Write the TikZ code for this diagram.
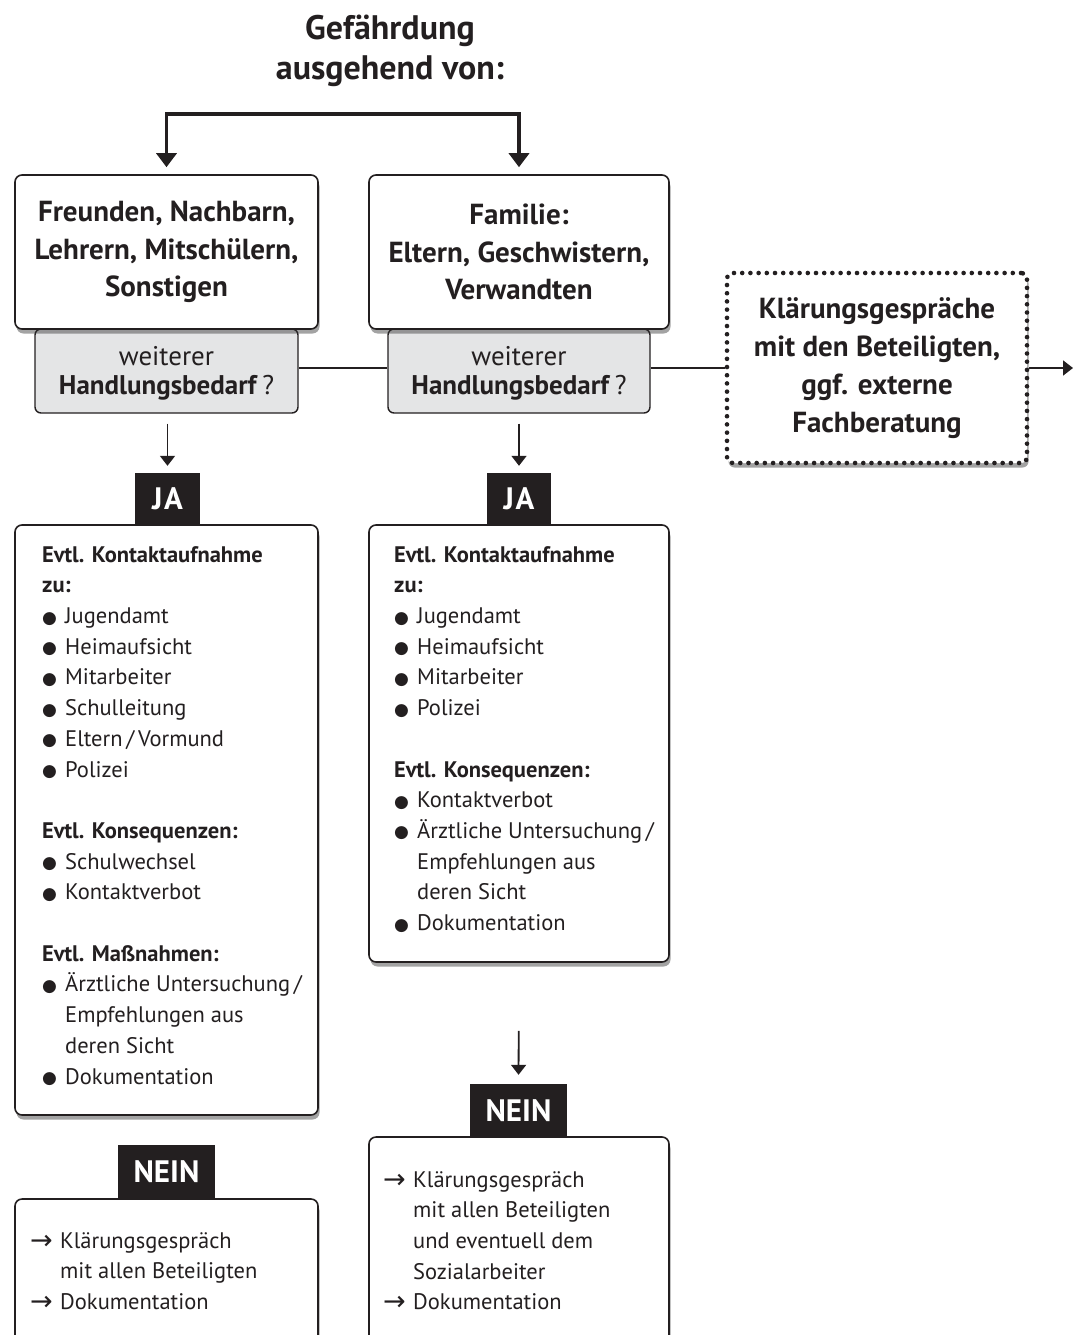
\documentclass[tikz,border=0pt]{standalone}
\usepackage{fontspec}
\setmainfont{PT Sans}
\newfontfamily\symf{DejaVu Sans}
\usetikzlibrary{arrows.meta,shadows}
\definecolor{ink}{HTML}{231F20}
\definecolor{grayf}{HTML}{E4E5E6}
\newcommand\bl{\makebox[23pt][l]{\raisebox{0.5pt}{\symf\fontsize{17}{17}\selectfont ●}}}
\newcommand\ind{\hspace*{23pt}}
\newcommand\ar{\makebox[30pt][l]{\raisebox{-1pt}{\symf\fontsize{27}{27}\selectfont →}}}
\newcommand\ari{\hspace*{30pt}}
\begin{document}
\begin{tikzpicture}[x=1pt,y=-1pt,
  every node/.style={text=ink},
  shad/.style={drop shadow={shadow xshift=1.5pt, shadow yshift=-4.5pt, opacity=.45, fill=black!80}},
  box/.style={draw=ink, line width=1.6pt, rounded corners=7pt, fill=white, shad, inner sep=0pt},
  topbox/.style={box, minimum height=154pt, align=center, font=\fontsize{29}{37.5}\selectfont\bfseries},
  graybox/.style={draw=ink, line width=1.4pt, rounded corners=6pt, fill=grayf, minimum height=84pt, align=center, font=\fontsize{27}{28.5}\selectfont, inner sep=0pt},
  dotbox/.style={draw=ink, line width=4.6pt, line cap=round, dash pattern=on 0pt off 8.2pt, rounded corners=6pt, fill=white, shad, minimum width=300pt, minimum height=190pt, align=center, font=\fontsize{29}{38}\selectfont\bfseries},
  tag/.style={fill=ink, text=white, font=\fontsize{31}{31}\selectfont\bfseries, inner sep=0pt, minimum height=52pt},
  body/.style={anchor=north west, inner sep=0pt, align=left, font=\fontsize{22.5}{30.7}\selectfont},
  thickarr/.style={draw=ink, line width=3.8pt, -{Triangle[width=20pt,length=14pt]}},
  arr/.style={draw=ink, line width=1.8pt, -{Triangle[width=15pt,length=10pt]}},
  conn/.style={draw=ink, line width=1.8pt}
]
\useasboundingbox (0,0) rectangle (1077,1335);
\clip (0,0) rectangle (1077,1335);

% title
\node[align=center, font=\fontsize{34}{40}\selectfont\bfseries] (title) at (390,51) {Gefährdung\\ausgehend von:};
\coordinate (top) at (343.5,114);

% gray decision boxes (drawn first, under the white boxes)
\node[graybox, minimum width=263pt] (g1) at (166.5,371) {\rule{0pt}{24pt}weiterer\\\textbf{Handlungsbedarf}\,?};
\node[graybox, minimum width=262pt] (g2) at (519,371) {\rule{0pt}{24pt}weiterer\\\textbf{Handlungsbedarf}\,?};

% top boxes
\node[topbox, minimum width=303pt] (b1) at (166.5,252) {Freunden, Nachbarn,\\Lehrern, Mitschülern,\\Sonstigen};
\node[topbox, minimum width=300pt] (b2) at (519,252) {Familie:\\Eltern, Geschwistern,\\Verwandten};

% dotted box
\node[dotbox] (k) at (877,368) {Klärungsgespräche\\mit den Beteiligten,\\ggf. externe\\Fachberatung};
\coordinate (out) at (1073,368);

% bracket arrows
\draw[thickarr, shorten >=7pt] (top) -| (b1.north);
\draw[thickarr, shorten >=7pt] (top) -| (b2.north);

% horizontal connectors
\draw[conn] (g1.east |- k.west) -- (g2.west |- k.west);
\draw[conn] (g2.east |- k.west) -- (k.west);
\draw[arr] (k.east) -- (out);

% JA tags
\node[tag, minimum width=65pt, font=\fontsize{31}{31}\selectfont\bfseries\addfontfeature{LetterSpace=6}] (ja1) at (167.5,499) {JA};
\node[tag, minimum width=64pt, font=\fontsize{31}{31}\selectfont\bfseries\addfontfeature{LetterSpace=6}] (ja2) at (519,499) {JA};
\draw[arr, shorten <=10pt, shorten >=7pt] (g1.south -| ja1) -- (ja1.north);
\draw[arr, shorten <=10pt, shorten >=7pt] (g2.south -| ja2) -- (ja2.north);

% content boxes
\node[box, minimum width=303pt, minimum height=590pt] (c1) at (166.5,820) {};
\node[box, minimum width=300pt, minimum height=437pt] (c2) at (519,743.5) {};

\node[body] (t1) at (42,546) {\textbf{Evtl. Kontaktaufnahme}\\
\textbf{zu:}\\
\bl Jugendamt\\
\bl Heimaufsicht\\
\bl Mitarbeiter\\
\bl Schulleitung\\
\bl Eltern\,/\,Vormund\\
\bl Polizei\\[30.7pt]
\textbf{Evtl. Konsequenzen:}\\
\bl Schulwechsel\\
\bl Kontaktverbot\\[30.7pt]
\textbf{Evtl. Maßnahmen:}\\
\bl Ärztliche Untersuchung\,/\\
\ind Empfehlungen aus\\
\ind deren Sicht\\
\bl Dokumentation};

\node[body] (t2) at (394,546) {\textbf{Evtl. Kontaktaufnahme}\\
\textbf{zu:}\\
\bl Jugendamt\\
\bl Heimaufsicht\\
\bl Mitarbeiter\\
\bl Polizei\\[30.7pt]
\textbf{Evtl. Konsequenzen:}\\
\bl Kontaktverbot\\
\bl Ärztliche Untersuchung\,/\\
\ind Empfehlungen aus\\
\ind deren Sicht\\
\bl Dokumentation};

% NEIN tags and boxes
\node[tag, minimum width=97pt, minimum height=53pt] (n2) at (518.5,1110.5) {NEIN};
\draw[arr, shorten <=68pt, shorten >=9pt] (c2.south) -- (n2.north);
\node[box, minimum width=300pt, minimum height=220pt] (d2) at (519,1247) {};
\node[body] (u2) at (383,1171) {\ar Klärungsgespräch\\
\ari mit allen Beteiligten\\
\ari und eventuell dem\\
\ari Sozialarbeiter\\
\ar Dokumentation};

\node[tag, minimum width=97pt, minimum height=53pt] (n1) at (166.5,1171.5) {NEIN};
\node[box, minimum width=303pt, minimum height=160pt] (d1) at (166.5,1279) {};
\node[body] (u1) at (30,1232) {\ar Klärungsgespräch\\
\ari mit allen Beteiligten\\
\ar Dokumentation};
\end{tikzpicture}
\end{document}
